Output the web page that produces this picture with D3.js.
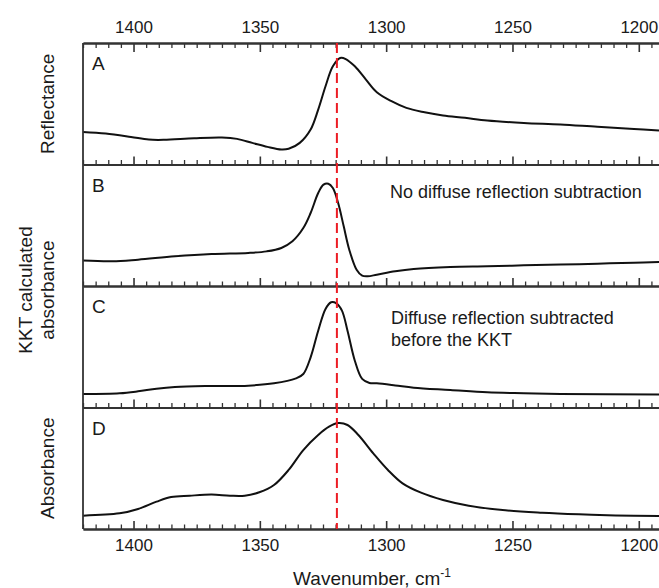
<!DOCTYPE html>
<html>
<head>
<meta charset="utf-8">
<script src="https://cdn.jsdelivr.net/npm/d3@7"></script>
<style>
  body { margin: 0; background: #fff; }
  svg text { font-family: "Liberation Sans", Arial, sans-serif; fill: #1a1a1a; }
</style>
</head>
<body>
<svg id="chart" width="659" height="588"></svg>
<script>
// wavenumber (cm-1) and signal (arbitrary units, 0-100)
var wnA = [1420, 1411, 1401, 1394, 1388, 1376, 1365, 1359, 1353, 1347, 1341.5, 1338.6, 1334.2, 1329.9, 1326.9, 1324, 1321.1, 1318.2, 1316, 1312.4, 1308, 1303.7, 1297.9, 1292, 1284.8, 1277.5, 1268.8, 1260, 1245.5, 1231, 1216.4, 1201.9, 1192];
var reflA = [26.8, 25.5, 22.7, 20.5, 20.3, 21.6, 22.2, 21.1, 17.8, 14.5, 12.3, 12.9, 17.8, 28.8, 45.2, 64.4, 80.8, 87.7, 86.8, 80.8, 69.9, 59.5, 52.1, 46.6, 43.0, 40.3, 38.4, 36.2, 34.2, 32.9, 31.0, 29.3, 27.9];

var wnB = [1420, 1408.4, 1398.2, 1383.6, 1369.1, 1354.6, 1347.3, 1341.5, 1337.1, 1332.8, 1329.9, 1326.9, 1324.8, 1322.9, 1321.1, 1319, 1316.8, 1314.6, 1311.7, 1309.5, 1307.3, 1303.7, 1296.4, 1289.1, 1274.6, 1260, 1245.5, 1231, 1216.4, 1201.9, 1192];
var absB = [20.9, 20.3, 21.7, 24.4, 26.3, 27.2, 28.5, 31.3, 36.8, 47.7, 60.1, 76.5, 83.4, 84.2, 80.7, 68.3, 49.1, 29.9, 13.4, 8.5, 8.0, 9.3, 12.1, 14.0, 15.6, 16.2, 17.0, 17.6, 18.4, 19.2, 19.8];

var wnC = [1420, 1405.5, 1398.2, 1390.9, 1383.6, 1369.1, 1354.6, 1344.4, 1335.7, 1332.8, 1329.9, 1326.9, 1324, 1321.8, 1319.7, 1317.5, 1315.3, 1312.4, 1309.5, 1306.6, 1303.7, 1296.4, 1289.1, 1274.6, 1260, 1245.5, 1231, 1192];
var absC = [11.1, 11.7, 13.3, 15.5, 16.9, 17.7, 18.0, 19.9, 24.0, 27.6, 41.3, 63.2, 81.1, 86.6, 85.7, 79.7, 63.2, 38.5, 23.5, 20.2, 19.9, 18.2, 16.3, 14.4, 12.5, 11.7, 11.1, 10.6];

var wnD = [1420, 1405.5, 1398.2, 1390.9, 1385.1, 1377.8, 1369.1, 1361.8, 1356, 1350.2, 1344.4, 1338.6, 1332.8, 1326.9, 1322.6, 1319, 1315.3, 1311, 1305.1, 1299.3, 1293.5, 1286.2, 1277.5, 1267.3, 1252.8, 1238.3, 1223.7, 1209.2, 1192];
var absD = [11.0, 12.9, 16.5, 22.5, 26.3, 27.4, 28.3, 27.4, 27.4, 30.2, 36.2, 48.6, 65.0, 77.4, 84.2, 87.2, 85.6, 77.4, 62.3, 48.6, 37.6, 29.9, 23.9, 19.2, 15.4, 13.4, 12.1, 11.2, 10.7];

var panelLetters = ["A", "B", "C", "D"];
var majorTicks = [1400, 1350, 1300, 1250, 1200];
var markerWn = 1319.5;

var svg = d3.select("#chart"),
  plotLeft = 83,
  plotRight = 659,
  plotTop = 43,
  plotBottom = 529,
  panelH = (plotBottom - plotTop) / 4,
  frameColor = "#333";

var x = d3.scaleLinear()
  .domain([1420, 1192])
  .range([plotLeft, plotRight]);

var fmt = d3.format("d");

var minorTicks = d3.range(1420, 1190, -5).filter(function(v) {
  return majorTicks.indexOf(v) < 0;
});

var panels = [
  { letter: panelLetters[0], wn: wnA, val: reflA },
  { letter: panelLetters[1], wn: wnB, val: absB },
  { letter: panelLetters[2], wn: wnC, val: absC },
  { letter: panelLetters[3], wn: wnD, val: absD }
];

function styleAxis(g, w) {
  g.select(".domain").attr("stroke", frameColor).attr("stroke-width", 1.8);
  g.selectAll(".tick line").attr("stroke", frameColor).attr("stroke-width", w || 1.3);
}

function styleLabels(g) {
  g.select(".domain").remove();
  g.attr("font-family", null).attr("font-size", null);
  g.selectAll("text").attr("font-size", 17);
}

// top axis, ticks pointing into panel A
var topG = svg.append("g").attr("transform", "translate(0," + plotTop + ")");
topG.append("g")
  .call(d3.axisBottom(x).tickValues(minorTicks).tickSize(5).tickSizeOuter(0).tickFormat(""))
  .call(styleAxis);
topG.append("g")
  .call(d3.axisBottom(x).tickValues(majorTicks).tickSize(9).tickSizeOuter(0).tickFormat(""))
  .call(styleAxis, 1.6);
topG.append("g")
  .call(d3.axisTop(x).tickValues(majorTicks).tickSize(0).tickPadding(10).tickFormat(fmt))
  .call(styleLabels);

panels.forEach(function(p, i) {
  var y0 = plotTop + i * panelH,
    y1 = y0 + panelH;

  var y = d3.scaleLinear()
    .domain([0, 100])
    .range([y1, y0]);

  // bottom edge of each panel, ticks pointing up
  var bg = svg.append("g").attr("transform", "translate(0," + y1 + ")");
  bg.append("g")
    .call(d3.axisTop(x).tickValues(minorTicks).tickSize(4.5).tickSizeOuter(0).tickFormat(""))
    .call(styleAxis);
  bg.append("g")
    .call(d3.axisTop(x).tickValues(majorTicks).tickSize(8).tickSizeOuter(0).tickFormat(""))
    .call(styleAxis, 1.6);

  var line = d3.line()
    .x(function(d) { return x(d[0]); })
    .y(function(d) { return y(d[1]); })
    .curve(d3.curveCatmullRom.alpha(0.5));

  svg.append("path")
    .datum(d3.zip(p.wn, p.val))
    .attr("d", line)
    .attr("fill", "none")
    .attr("stroke", "#111")
    .attr("stroke-width", 2);

  svg.append("text")
    .attr("x", 92)
    .attr("y", y0 + 27)
    .attr("font-size", 19)
    .text(p.letter);
});

// bottom axis labels
svg.append("g")
  .attr("transform", "translate(0," + plotBottom + ")")
  .call(d3.axisBottom(x).tickValues(majorTicks).tickSize(0).tickPadding(10).tickFormat(fmt))
  .call(styleLabels);

// left frame
svg.append("line")
  .attr("x1", plotLeft).attr("x2", plotLeft)
  .attr("y1", plotTop).attr("y2", plotBottom)
  .attr("stroke", frameColor)
  .attr("stroke-width", 1.8);

// red marker line
svg.append("line")
  .attr("x1", x(markerWn)).attr("x2", x(markerWn))
  .attr("y1", plotTop).attr("y2", plotBottom)
  .attr("stroke", "#ec1c24")
  .attr("stroke-width", 2)
  .attr("stroke-dasharray", "10,5");

// annotations
svg.append("text")
  .attr("x", 390).attr("y", 198)
  .attr("font-size", 18)
  .text("No diffuse reflection subtraction");
svg.append("text")
  .attr("x", 391).attr("y", 324)
  .attr("font-size", 18)
  .text("Diffuse reflection subtracted");
svg.append("text")
  .attr("x", 391).attr("y", 346)
  .attr("font-size", 18)
  .text("before the KKT");

// y labels
function yLabel(lines, cy, bx) {
  var t = svg.append("text")
    .attr("transform", "translate(" + bx + "," + cy + ") rotate(-90)")
    .attr("text-anchor", "middle")
    .attr("font-size", 19);
  lines.forEach(function(s, k) {
    t.append("tspan").attr("x", 0).attr("y", k * 22 - (lines.length - 1) * 22).text(s);
  });
}
yLabel(["Reflectance"], plotTop + panelH / 2, 54);
yLabel(["KKT calculated", "absorbance"], plotTop + panelH * 2 + 4, 54);
yLabel(["Absorbance"], plotTop + panelH * 3.5, 54);

// x title
var title = svg.append("text")
  .attr("x", 372)
  .attr("y", 585)
  .attr("text-anchor", "middle")
  .attr("font-size", 19)
  .text("Wavenumber, cm");
title.append("tspan")
  .attr("dy", -8)
  .attr("font-size", 12)
  .text("-1");
</script>
</body>
</html>
